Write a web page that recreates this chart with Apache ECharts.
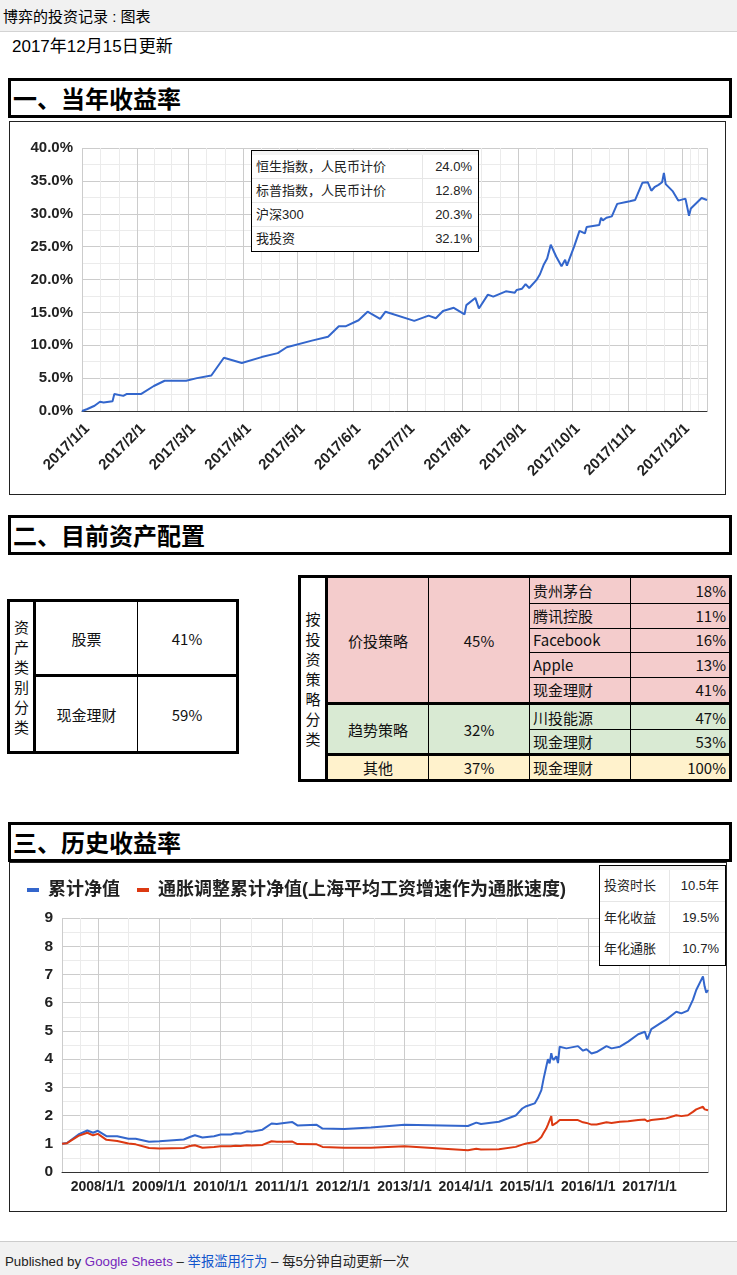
<!DOCTYPE html>
<html lang="zh-cn">
<head>
<meta charset="utf-8">
<title>博弈的投资记录 : 图表</title>
<script src="https://cdn.jsdelivr.net/npm/echarts@6/dist/echarts.min.js"></script>
<style>
  body { margin: 0; background: #fff; color: #000; font-family: Arial, "Liberation Sans", "Noto Sans CJK SC", sans-serif; }
  #page { position: relative; width: 737px; height: 1275px; overflow: hidden; }
  .a { position: absolute; box-sizing: border-box; }
  #topbar { left: 0; top: 0; width: 737px; height: 32px; background: #f1f1f1; border-bottom: 1px solid #d3d3d3; font-size: 15px; line-height: 33px; padding-left: 3px; }
  #updated { left: 12px; top: 34px; font-size: 17px; line-height: 26px; }
  .section { left: 8px; width: 724px; height: 40px; border: 3px solid #000; font-family: "Noto Sans CJK SC"; font-weight: bold; font-size: 24px; line-height: 34px; padding-left: 2px; background: #fff; }
  .chartbox { border: 1px solid #222; }
  .mini { border: 1px solid #000; background: #fff; font-size: 13px; color: #222; z-index: 5; }
  .cell { display: flex; align-items: center; font-family: "Noto Sans CJK SC"; font-size: 15px; color: #111; }
  #footer { left: 0; top: 1241px; width: 737px; height: 34px; background: #f1f1f1; border-top: 1px solid #ccc; font-size: 13.3px; line-height: 40px; padding-left: 5px; color: #222; }
  #footer span.g { color: #7627bb; }
  #footer span.r { color: #1155cc; }
</style>
</head>
<body>
<div id="page">
  <div class="a" id="topbar">博弈的投资记录 : 图表</div>
  <div class="a" id="updated">2017年12月15日更新</div>

  <div class="a section" style="top:78px">一、当年收益率</div>
  <div class="a chartbox" id="chart1" style="left:9px;top:121px;width:717px;height:374px"></div>
  <div class="a mini" id="legend1" style="left:251px;top:150px;width:228px;height:102px"></div>

  <div class="a section" style="top:515px">二、目前资产配置</div>

  <div class="a section" style="top:822px">三、历史收益率</div>
  <div class="a chartbox" id="chart2" style="left:9px;top:862px;width:718px;height:350px"></div>
  <div class="a mini" id="legend2" style="left:599px;top:865px;width:127px;height:101px"></div>

  <div class="a" id="footer">Published by <span class="g">Google Sheets</span> – <span class="r">举报滥用行为</span> – 每5分钟自动更新一次</div>
</div>

<script>
// 当年收益率 (%)
var ytdDates = ['2017-01-01','2017-01-04','2017-01-08','2017-01-11','2017-01-13','2017-01-18','2017-01-19','2017-01-24','2017-01-26',
  '2017-02-03','2017-02-10','2017-02-16','2017-02-28','2017-03-06','2017-03-14','2017-03-21','2017-03-31',
  '2017-04-11','2017-04-20','2017-04-25','2017-05-09','2017-05-18','2017-05-24','2017-05-28',
  '2017-06-04','2017-06-09','2017-06-16','2017-06-19','2017-07-05','2017-07-13','2017-07-17','2017-07-21','2017-07-27',
  '2017-08-02','2017-08-03','2017-08-08','2017-08-10','2017-08-15','2017-08-18','2017-08-25','2017-08-30','2017-08-31',
  '2017-09-03','2017-09-05','2017-09-07','2017-09-11','2017-09-13','2017-09-15','2017-09-17','2017-09-19','2017-09-22',
  '2017-09-25','2017-09-27','2017-09-28','2017-10-02','2017-10-05','2017-10-08','2017-10-09','2017-10-16','2017-10-17',
  '2017-10-18','2017-10-20','2017-10-23','2017-10-26','2017-10-31','2017-11-01','2017-11-02','2017-11-05','2017-11-07',
  '2017-11-08','2017-11-09','2017-11-12','2017-11-14','2017-11-16','2017-11-18','2017-11-20','2017-11-21','2017-11-22',
  '2017-11-26','2017-11-29','2017-12-03','2017-12-05','2017-12-06','2017-12-12','2017-12-13','2017-12-15'];
var ytdValues = [0.0,0.3,0.8,1.4,1.3,1.5,2.6,2.3,2.6,
  2.6,3.8,4.6,4.6,5.0,5.4,8.1,7.3,
  8.2,8.8,9.7,10.7,11.3,12.9,12.9,
  13.8,15.1,14.0,15.1,13.7,14.5,14.1,15.2,15.7,
  14.7,16.1,17.2,15.6,17.7,17.4,18.2,18.0,18.4,
  18.6,19.3,18.7,19.9,20.8,22.2,23.2,25.3,23.5,
  22.0,23.0,22.1,25.0,27.4,27.0,28.0,28.3,29.4,
  29.0,29.4,29.6,31.5,31.8,31.5,31.9,32.1,33.4,
  33.1,34.7,34.8,33.5,34.1,34.4,34.8,36.2,34.5,
  33.4,32.0,32.3,29.7,30.8,32.4,32.5,32.1];

var indexNames = ['恒生指数，人民币计价', '标普指数，人民币计价', '沪深300', '我投资'];
var indexReturns = ['24.0%', '12.8%', '20.3%', '32.1%'];

// 资产配置
var assetNames = ['股票', '现金理财'];
var assetShares = ['41%', '59%'];
var strategyNames = ['价投策略', '趋势策略', '其他'];
var strategyShares = ['45%', '32%', '37%'];
var holdingNames = [['贵州茅台', '腾讯控股', 'Facebook', 'Apple', '现金理财'], ['川投能源', '现金理财'], ['现金理财']];
var holdingShares = [['18%', '11%', '16%', '13%', '41%'], ['47%', '53%'], ['100%']];

// 历史净值
var histDates = ['2007-06-01','2007-07-01','2007-09-07','2007-10-30','2007-12-03','2008-01-01','2008-02-21','2008-04-25',
  '2008-07-01','2008-08-13','2008-11-01','2009-01-01','2009-05-27','2009-07-02','2009-08-01','2009-09-15','2009-11-23',
  '2010-01-01','2010-03-03','2010-04-01','2010-04-30','2010-06-06','2010-07-09','2010-09-08','2010-11-01','2010-12-02',
  '2011-01-15','2011-03-05','2011-04-04','2011-07-28','2011-09-01','2012-01-08','2012-06-15','2013-01-01',
  '2014-01-14','2014-03-05','2014-04-02','2014-07-18','2014-10-26','2014-12-04','2014-12-28',
  '2015-02-16','2015-03-07','2015-03-28','2015-04-10','2015-04-26','2015-05-06','2015-05-16','2015-05-26','2015-06-01',
  '2015-06-09','2015-06-25','2015-07-05','2015-07-15','2015-08-24','2015-11-01','2015-12-01','2015-12-22',
  '2016-01-21','2016-02-20','2016-04-19','2016-05-19','2016-07-08','2016-08-26','2016-10-25','2016-12-04','2016-12-18',
  '2017-01-11','2017-03-21','2017-04-10','2017-06-09','2017-07-09','2017-08-17','2017-09-16','2017-10-06','2017-11-15',
  '2017-11-25','2017-12-05','2017-12-15'];
var navValues = [1.00,1.03,1.33,1.47,1.39,1.46,1.27,1.27,
  1.18,1.18,1.07,1.09,1.15,1.24,1.30,1.22,1.27,
  1.33,1.33,1.37,1.36,1.44,1.43,1.50,1.72,1.70,
  1.74,1.77,1.65,1.67,1.54,1.52,1.58,1.67,
  1.63,1.75,1.70,1.78,2.00,2.25,2.33,
  2.43,2.62,2.90,3.30,3.73,4.00,3.85,4.21,4.05,
  3.97,4.10,3.86,4.44,4.38,4.46,4.30,4.35,
  4.20,4.25,4.46,4.38,4.44,4.62,4.88,4.97,4.70,
  5.06,5.33,5.40,5.68,5.62,5.72,6.10,6.45,6.93,
  6.57,6.35,6.45];
var adjValues = [1.00,1.02,1.28,1.39,1.30,1.35,1.14,1.10,
  1.01,0.98,0.85,0.83,0.85,0.92,0.95,0.86,0.89,
  0.91,0.91,0.93,0.92,0.95,0.94,0.96,1.09,1.07,
  1.07,1.08,0.99,0.98,0.89,0.86,0.86,0.91,
  0.77,0.82,0.80,0.81,0.89,0.97,1.01,
  1.06,1.12,1.24,1.38,1.54,1.68,1.66,1.98,1.65,
  1.72,1.74,1.70,1.84,1.84,1.84,1.76,1.74,
  1.68,1.68,1.76,1.74,1.78,1.80,1.84,1.86,1.80,
  1.84,1.89,1.90,2.01,1.98,2.01,2.13,2.22,2.31,
  2.22,2.19,2.19];

var statNames = ['投资时长', '年化收益', '年化通胀'];
var statValues = ['10.5年', '19.5%', '10.7%'];

var DAY = 24 * 3600 * 1000;
var AXIS_FONT = 'Arial, "Liberation Sans", sans-serif';
var page = document.getElementById('page');

function put(parent, x1, y1, x2, y2, css, html) {
  var d = document.createElement('div');
  d.className = 'a';
  d.style.cssText = 'left:' + x1 + 'px;top:' + y1 + 'px;width:' + (x2 - x1) + 'px;height:' + (y2 - y1) + 'px;' + (css || '');
  if (html != null) d.innerHTML = html;
  parent.appendChild(d);
  return d;
}
function line(x1, y1, x2, y2) { put(page, x1, y1, x2, y2, 'background:#000;'); }
function vtext(s) { return s.split('').join('<br>'); }

// small tables sitting on the charts
function miniTable(el, names, values, rowH, splitX) {
  var w = el.clientWidth;
  put(el, 0, 0, w, 4, 'background:#f3f3f3;');
  names.forEach(function (n, i) {
    var top = 4 + i * rowH;
    var bd = i < names.length - 1 ? 'border-bottom:1px solid #e6e6e6;' : '';
    put(el, 0, top, w, top + rowH, bd);
    put(el, 4, top, splitX, top + rowH, 'line-height:' + rowH + 'px;white-space:nowrap;', n);
    put(el, splitX, top, w - 6, top + rowH, 'line-height:' + rowH + 'px;text-align:right;', values[i]);
  });
  put(el, splitX, 4, splitX + 1, 4 + rowH * names.length, 'background:#e6e6e6;');
}
miniTable(document.getElementById('legend1'), indexNames, indexReturns, 24, 170);
miniTable(document.getElementById('legend2'), statNames, statValues, 31.67, 69);

// 资产类别分类
var cc = 'justify-content:center;';
put(page, 7, 599, 239, 754, 'border:3px solid #000;');
put(page, 10, 602, 33, 751, 'line-height:20px;' + cc, vtext('资产类别分类')).classList.add('cell');
var rowTops = [602, 677], rowBots = [674, 751];
assetNames.forEach(function (n, i) {
  put(page, 36, rowTops[i], 137, rowBots[i], cc, n).classList.add('cell');
  put(page, 138, rowTops[i], 236, rowBots[i], cc, assetShares[i]).classList.add('cell');
});
line(33, 599, 36, 754);
line(137, 602, 138, 751);
line(36, 674, 236, 677);

// 按投资策略分类
var blockColors = ['#f4cccc', '#d9ead3', '#fff2cc'];
var blockY = [578, 705, 756, 779];
put(page, 298, 575, 732, 782, 'border:3px solid #000;');
put(page, 301, 578, 325, 779, 'line-height:20px;' + cc, vtext('按投资策略分类')).classList.add('cell');
strategyNames.forEach(function (n, b) {
  var y1 = blockY[b], y2 = b === 0 ? 702 : (b === 1 ? 753 : 779);
  put(page, 328, y1, 729, y2, 'background:' + blockColors[b] + ';');
  put(page, 328, y1, 428, y2, cc, n).classList.add('cell');
  put(page, 429, y1, 529, y2, cc, strategyShares[b]).classList.add('cell');
  var k = holdingNames[b].length, h = (y2 - y1) / k;
  holdingNames[b].forEach(function (hn, j) {
    var t = y1 + j * h;
    put(page, 530, t, 630, t + h, 'padding-left:3px;', hn).classList.add('cell');
    put(page, 631, t, 729, t + h, 'justify-content:flex-end;padding-right:3px;', holdingShares[b][j]).classList.add('cell');
    if (j > 0) line(529, Math.round(t), 729, Math.round(t) + 1);
  });
});
line(325, 575, 328, 782);
line(428, 578, 429, 779);
line(529, 578, 530, 779);
line(630, 578, 631, 779);
line(325, 702, 729, 705);
line(325, 753, 729, 756);

function fmtDate(v) {
  var d = new Date(v);
  return d.getFullYear() + '/' + (d.getMonth() + 1) + '/' + d.getDate();
}

var chart1 = echarts.init(document.getElementById('chart1'));
chart1.setOption({
  animation: false,
  grid: { left: 72, right: 18, top: 26, bottom: 83 },
  xAxis: {
    type: 'time', min: '2017-01-01', max: '2017-12-15',
    splitNumber: 12, minInterval: 28 * DAY, maxInterval: 31 * DAY,
    axisLine: { lineStyle: { color: '#333' } },
    axisTick: { show: false },
    axisLabel: { rotate: 45, margin: 10, verticalAlign: 'top', fontSize: 15, fontWeight: 'bold', color: '#222',
      fontFamily: AXIS_FONT, formatter: fmtDate, showMaxLabel: false, hideOverlap: false },
    splitLine: { show: true, lineStyle: { color: '#ccc' } },
    minorTick: { show: false, splitNumber: 3 },
    minorSplitLine: { show: true, lineStyle: { color: '#ebebeb' } }
  },
  yAxis: {
    type: 'value', min: 0, max: 40, interval: 5,
    axisLine: { show: false }, axisTick: { show: false },
    axisLabel: { margin: 9, fontSize: 15, fontWeight: 'bold', color: '#222', fontFamily: AXIS_FONT,
      formatter: function (v) { return v.toFixed(1) + '%'; } },
    splitLine: { lineStyle: { color: '#ccc' } },
    minorTick: { show: false, splitNumber: 2 },
    minorSplitLine: { show: true, lineStyle: { color: '#ebebeb' } }
  },
  series: [{
    type: 'line', showSymbol: false,
    data: ytdDates.map(function (d, i) { return [d, ytdValues[i]]; }),
    lineStyle: { color: '#3366cc', width: 2 }, itemStyle: { color: '#3366cc' }
  }]
});

var chart2 = echarts.init(document.getElementById('chart2'));
chart2.setOption({
  animation: false,
  legend: {
    left: 17, top: 17, padding: 0, icon: 'rect', itemWidth: 12, itemHeight: 4, itemGap: 17,
    textStyle: { fontSize: 18, fontWeight: 'bold', color: '#222', fontFamily: 'Arial, "Noto Sans CJK SC"',
      lineHeight: 20, padding: [0, 0, 0, 4] }
  },
  grid: { left: 52, right: 18, top: 55, bottom: 39 },
  xAxis: {
    type: 'time', min: '2007-06-01', max: '2017-12-15',
    splitNumber: 10, minInterval: 365 * DAY, maxInterval: 366 * DAY,
    axisLine: { lineStyle: { color: '#333' } },
    axisTick: { show: false },
    axisLabel: { margin: 8, fontSize: 14, fontWeight: 'bold', color: '#222', fontFamily: AXIS_FONT,
      formatter: fmtDate, showMinLabel: false, showMaxLabel: false },
    splitLine: { show: true, lineStyle: { color: '#ccc' } },
    minorTick: { show: false, splitNumber: 2 },
    minorSplitLine: { show: true, lineStyle: { color: '#ebebeb' } }
  },
  yAxis: {
    type: 'value', min: 0, max: 9, interval: 1,
    axisLine: { show: false }, axisTick: { show: false },
    axisLabel: { margin: 9, fontSize: 15.5, fontWeight: 'bold', color: '#222', fontFamily: AXIS_FONT },
    splitLine: { lineStyle: { color: '#ccc' } },
    minorTick: { show: false, splitNumber: 2 },
    minorSplitLine: { show: true, lineStyle: { color: '#ebebeb' } }
  },
  series: [{
    name: '累计净值', type: 'line', showSymbol: false,
    data: histDates.map(function (d, i) { return [d, navValues[i]]; }),
    lineStyle: { color: '#3366cc', width: 2 }, itemStyle: { color: '#3366cc' }
  }, {
    name: '通胀调整累计净值(上海平均工资增速作为通胀速度)', type: 'line', showSymbol: false,
    data: histDates.map(function (d, i) { return [d, adjValues[i]]; }),
    lineStyle: { color: '#dc3912', width: 2 }, itemStyle: { color: '#dc3912' }
  }]
});
</script>
</body>
</html>
